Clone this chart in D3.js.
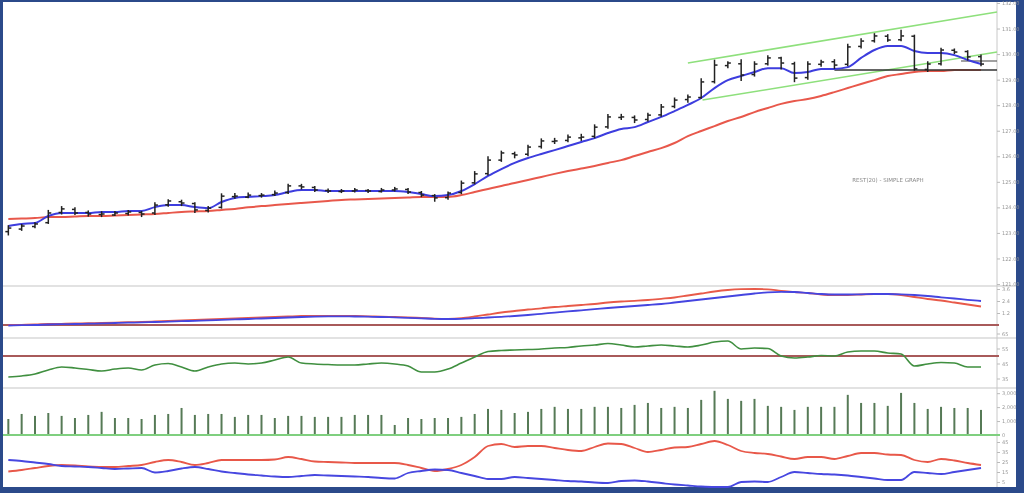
<!DOCTYPE html>
<html>
<head>
<meta charset="utf-8">
<script src="https://cdn.jsdelivr.net/npm/d3@7"></script>
<style>
  body { margin: 0; background: #2b4a8a; }
  svg { display: block; }
  .tick text { font-family: "DejaVu Sans", sans-serif; font-size: 5px; fill: #999; }
  .tick line { stroke: #bbb; }
</style>
</head>
<body>
<svg width="1024" height="493"></svg>
<script>
// price bars (open / high / low / close)
var opens = [123.05,123.15,123.25,123.40,123.80,123.92,123.80,123.72,123.70,123.76,123.80,123.78,124.10,124.22,124.15,123.88,124.00,124.42,124.40,124.46,
  124.50,124.58,124.84,124.78,124.66,124.62,124.64,124.66,124.62,124.68,124.70,124.58,124.46,124.38,124.58,124.96,125.32,125.85,126.10,126.08,
  126.38,126.58,126.62,126.72,126.78,127.15,127.52,127.52,127.44,127.62,127.95,128.22,128.30,128.92,129.55,129.62,129.20,129.62,129.85,129.62,
  129.08,129.60,129.70,129.60,130.30,130.52,130.70,130.56,130.70,129.40,129.62,130.15,130.10,129.90];
var highs = [123.30,123.35,123.42,123.90,124.05,124.00,123.88,123.85,123.86,123.90,123.86,124.20,124.32,124.30,124.20,124.05,124.55,124.56,124.58,124.56,
  124.66,124.92,124.92,124.84,124.74,124.72,124.76,124.72,124.76,124.80,124.76,124.64,124.52,124.62,125.05,125.42,126.00,126.22,126.18,126.45,
  126.70,126.72,126.85,126.88,127.25,127.65,127.66,127.60,127.70,128.05,128.30,128.42,129.05,129.78,129.72,129.80,129.72,129.95,129.90,129.70,
  129.72,129.78,129.80,130.40,130.62,130.82,130.78,130.95,130.76,129.72,130.25,130.22,130.15,129.98];
var lows = [122.90,123.08,123.18,123.35,123.72,123.70,123.64,123.62,123.66,123.68,123.62,123.70,124.02,124.05,123.78,123.80,123.95,124.34,124.36,124.38,
  124.44,124.52,124.70,124.60,124.56,124.56,124.58,124.56,124.58,124.62,124.52,124.40,124.22,124.30,124.52,124.90,125.25,125.78,125.92,126.00,
  126.30,126.48,126.55,126.60,126.70,127.08,127.42,127.30,127.36,127.55,127.88,128.10,128.25,128.85,129.45,128.95,129.12,129.55,129.40,128.90,
  129.00,129.50,129.42,129.52,130.22,130.45,130.48,130.50,129.35,129.30,129.55,130.00,129.75,129.52];
var closes = [123.19,123.27,123.35,123.78,123.94,123.78,123.74,123.74,123.78,123.82,123.74,124.09,124.25,124.17,123.90,123.97,124.44,124.44,124.48,124.48,
  124.56,124.84,124.80,124.68,124.64,124.64,124.68,124.64,124.68,124.72,124.60,124.48,124.37,124.56,124.95,125.31,125.85,126.13,126.05,126.36,
  126.60,126.60,126.75,126.75,127.14,127.54,127.54,127.42,127.61,127.93,128.20,128.32,128.91,129.57,129.65,129.18,129.61,129.85,129.65,129.06,
  129.61,129.69,129.57,130.28,130.51,130.71,130.55,130.71,129.42,129.61,130.16,130.08,129.89,129.61];

// moving averages
var maFast = [123.27,123.35,123.39,123.66,123.78,123.78,123.78,123.82,123.82,123.86,123.86,124.01,124.09,124.09,124.01,123.97,124.21,124.37,124.41,124.44,
  124.48,124.60,124.68,124.68,124.64,124.64,124.64,124.64,124.64,124.64,124.60,124.52,124.44,124.48,124.64,124.91,125.23,125.50,125.74,125.93,
  126.09,126.24,126.40,126.56,126.71,126.91,127.07,127.14,127.34,127.54,127.77,128.01,128.28,128.67,128.98,129.14,129.30,129.45,129.45,129.26,
  129.30,129.42,129.42,129.49,129.85,130.16,130.32,130.32,130.12,130.04,130.04,129.96,129.77,129.61];
var maSlow = [123.54,123.56,123.58,123.62,123.62,123.64,123.66,123.66,123.68,123.70,123.72,123.74,123.78,123.82,123.84,123.86,123.90,123.94,124.00,124.05,
  124.09,124.13,124.17,124.21,124.25,124.29,124.31,124.33,124.35,124.37,124.39,124.41,124.41,124.41,124.48,124.60,124.72,124.84,124.95,125.07,
  125.19,125.31,125.42,125.52,125.62,125.74,125.85,126.01,126.17,126.32,126.52,126.79,126.99,127.18,127.38,127.54,127.73,127.89,128.05,128.16,
  128.24,128.36,128.51,128.67,128.83,128.98,129.14,129.22,129.30,129.34,129.34,129.38,129.38,129.38];

// trend channel and support levels [bar, price]
var channelUpper = [[51, 129.65], [74.2, 131.65]];
var channelLower = [[52.1, 128.20], [74.2, 130.08]];
var supportMain = [[62, 129.38], [74.2, 129.38]];
var supportShort = [[71.5, 129.73], [74.2, 129.73]];

// MACD panel
var macdRed = [0,0.02,0.05,0.10,0.12,0.15,0.18,0.20,0.24,0.28,0.31,0.35,0.40,0.45,0.50,0.55,0.60,0.65,0.70,0.75,
  0.80,0.85,0.90,0.92,0.92,0.90,0.90,0.87,0.84,0.80,0.76,0.70,0.64,0.62,0.68,0.85,1.05,1.25,1.40,1.55,
  1.67,1.80,1.90,2.00,2.10,2.25,2.35,2.42,2.50,2.62,2.75,2.95,3.15,3.35,3.50,3.58,3.60,3.57,3.40,3.30,
  3.20,3.05,3.00,3.00,3.05,3.10,3.10,3.00,2.80,2.60,2.45,2.25,2.05,1.85];
var macdBlue = [-0.05,-0.02,0,0.05,0.08,0.10,0.13,0.16,0.20,0.23,0.26,0.30,0.34,0.38,0.42,0.46,0.51,0.56,0.60,0.65,
  0.70,0.75,0.80,0.84,0.86,0.86,0.85,0.83,0.80,0.76,0.72,0.67,0.62,0.60,0.62,0.68,0.75,0.82,0.90,1.00,
  1.12,1.24,1.36,1.47,1.58,1.70,1.80,1.90,2.00,2.10,2.25,2.40,2.55,2.70,2.85,3.00,3.15,3.27,3.32,3.30,
  3.20,3.10,3.05,3.05,3.07,3.10,3.10,3.07,3.00,2.90,2.77,2.65,2.52,2.40];
var macdTicks = [1.2, 2.4, 3.6];

// RSI panel
var rsi = [36,36.7,38,40.7,42.7,42,41,40,41.3,42,40.7,44,45,42.7,40,42.7,44.7,45.3,44.7,45.3,
  47.3,49.3,45.3,44.7,44.3,44,44,44.7,45.3,44.7,43.3,39.3,39.3,41.3,45.3,49.3,53,53.7,54,54.3,
  54.7,55.3,55.7,56.7,57.3,58.3,57.3,56,56.7,57.3,56.7,56,57.3,59.3,60,54.7,55.3,55,50,48.7,
  49.3,50.3,50,52.7,53.3,53.3,52,51.3,43.3,44.7,45.7,45.3,42.7,42.7];
var rsiTicks = [35, 45, 55, 65];

// volume
var volume = [1150,1510,1370,1580,1370,1220,1440,1660,1220,1220,1150,1440,1510,1940,1440,
  1510,1510,1300,1440,1440,1220,1370,1370,1300,1300,1300,1440,1440,1440,720,1220,1150,1220,1220,1300,1510,1870,1800,
  1580,1660,1870,2020,1870,1870,2020,2020,1940,2160,2300,1940,2020,1940,2520,3170,2590,2450,2590,2090,2020,1800,
  2020,2020,2020,2880,2300,2300,2090,3020,2300,1870,2020,1940,1940,1800];
var volTicks = [0, 1000, 2000, 3000];

// bottom oscillator
var oscRed = [15.5,17,19,21,22,21.5,20.5,20,20,21,22,25,27,25,22,24,27,27,27,27,
  27.5,30,28,25.5,25,24.5,24,24,24,24,22,19,16,18,22,30,41,43,40,41,
  41,39,37,36,40,43.5,43,39,35,37,39.5,40,43,46,42,36,34,33,30.5,28,
  30,30,28,31,34,34,32.5,32,27,25,28,26.5,24,22];
var oscBlue = [27,26,24.5,23,21,20.5,20,19,18,18.5,19,14.5,16,18.5,20,18,15.5,14,12.5,11.5,
  10.5,10,11,12,11.5,11,10.5,10,9,8.5,14,16,17.5,17,14,11,8,8,10,9,
  8,7,6,5.5,4.5,4,6,6.5,5.5,4,2.5,1.5,0.5,0,0,5,5.5,5,10,15,
  14,13,12.5,11.5,10,8.5,7,7,15,14,13,15,17,19];
var oscTicks = [5, 15, 25, 35, 45];

var svg = d3.select("svg");

svg.append("rect").attr("width", 1024).attr("height", 493).attr("fill", "#2b4a8a");
svg.append("rect").attr("x", 3).attr("y", 2).attr("width", 1013).attr("height", 485).attr("fill", "#fff");

var x = d3.scaleLinear().domain([-0.4, 74.2]).range([3, 997]);

var yPrice = d3.scaleLinear().domain([121, 132]).range([284, 3]);
var yMacd = d3.scaleLinear().domain([-1.2, 3.8]).range([337, 287]);
var yRsi = d3.scaleLinear().domain([30, 62]).range([386, 338]);
var yVol = d3.scaleLinear().domain([0, 3300]).range([435, 389]);
var yOsc = d3.scaleLinear().domain([0, 50]).range([487, 437]);

var g = svg.append("g").attr("filter", "url(#soft)");
svg.append("defs").append("filter").attr("id", "soft")
  .append("feGaussianBlur").attr("stdDeviation", 0.45);

// panel separators
[286, 338, 388].forEach(function(yy) {
  g.append("line").attr("x1", 3).attr("x2", 1016).attr("y1", yy).attr("y2", yy)
    .attr("stroke", "#e2e2e2").attr("stroke-width", 2);
});

// right axis line
g.append("line").attr("x1", 997).attr("x2", 997).attr("y1", 2).attr("y2", 487)
  .attr("stroke", "#c8c8c8").attr("stroke-width", 1);

function rightAxis(scale, ticks, fmt) {
  var a = g.append("g").attr("transform", "translate(997,0)")
    .call(d3.axisRight(scale).tickValues(ticks).tickSize(3).tickPadding(2).tickFormat(fmt));
  a.select(".domain").remove();
}
rightAxis(yPrice, d3.range(121, 132.5, 1), d3.format(".2f"));
rightAxis(yMacd, macdTicks, d3.format(".1f"));
rightAxis(yRsi, rsiTicks, d3.format("d"));
rightAxis(yVol, volTicks, d3.format(","));
rightAxis(yOsc, oscTicks, d3.format("d"));

function pts(arr) { return arr.map(function(v, i) { return [i, v]; }); }

function drawLine(data, yScale, color, width) {
  g.append("path")
    .datum(data)
    .attr("fill", "none")
    .attr("stroke", color)
    .attr("stroke-width", width)
    .attr("stroke-linejoin", "round")
    .attr("d", d3.line()
      .x(function(d) { return x(d[0]); })
      .y(function(d) { return yScale(d[1]); })
      .curve(d3.curveMonotoneX));
}

// price panel
drawLine(channelUpper, yPrice, "#8ee07c", 1.6);
drawLine(channelLower, yPrice, "#8ee07c", 1.6);
drawLine(pts(maSlow), yPrice, "#e8584c", 2);
drawLine(supportMain, yPrice, "#333", 1.4);
drawLine(supportShort, yPrice, "#444", 1.2);
drawLine(pts(maFast), yPrice, "#3c3cde", 2);

var bars = g.append("g").selectAll("g")
  .data(closes)
  .enter().append("g");

bars.append("line")
  .attr("x1", function(d, i) { return x(i); })
  .attr("x2", function(d, i) { return x(i); })
  .attr("y1", function(d, i) { return yPrice(highs[i]); })
  .attr("y2", function(d, i) { return yPrice(lows[i]); })
  .attr("stroke", "#222").attr("stroke-width", 1.5);
bars.append("line")
  .attr("x1", function(d, i) { return x(i) - 3; })
  .attr("x2", function(d, i) { return x(i); })
  .attr("y1", function(d, i) { return yPrice(opens[i]); })
  .attr("y2", function(d, i) { return yPrice(opens[i]); })
  .attr("stroke", "#222").attr("stroke-width", 1.5);
bars.append("line")
  .attr("x1", function(d, i) { return x(i); })
  .attr("x2", function(d, i) { return x(i) + 3; })
  .attr("y1", function(d) { return yPrice(d); })
  .attr("y2", function(d) { return yPrice(d); })
  .attr("stroke", "#222").attr("stroke-width", 1.5);

g.append("text")
  .attr("x", 888).attr("y", 182)
  .attr("text-anchor", "middle")
  .attr("font-family", "DejaVu Sans, sans-serif")
  .attr("font-size", 5.5)
  .attr("fill", "#888")
  .text("REST(20) - SIMPLE GRAPH");

// MACD panel
g.append("line").attr("x1", 3).attr("x2", 999).attr("y1", yMacd(0)).attr("y2", yMacd(0))
  .attr("stroke", "#a85a5a").attr("stroke-width", 2);
drawLine(pts(macdRed), yMacd, "#e85a4a", 1.8);
drawLine(pts(macdBlue), yMacd, "#4444e0", 1.8);

// RSI panel
g.append("line").attr("x1", 3).attr("x2", 999).attr("y1", yRsi(50)).attr("y2", yRsi(50))
  .attr("stroke", "#a85a5a").attr("stroke-width", 2);
drawLine(pts(rsi), yRsi, "#3f8f3f", 1.6);

// volume panel
g.append("g").selectAll("line")
  .data(volume)
  .enter().append("line")
    .attr("x1", function(d, i) { return x(i); })
    .attr("x2", function(d, i) { return x(i); })
    .attr("y1", yVol(0))
    .attr("y2", function(d) { return yVol(d); })
    .attr("stroke", "#567a56")
    .attr("stroke-width", 2);
g.append("line").attr("x1", 3).attr("x2", 1000).attr("y1", yVol(0)).attr("y2", yVol(0))
  .attr("stroke", "#7fcf7f").attr("stroke-width", 2);

// bottom oscillator
drawLine(pts(oscRed), yOsc, "#e8584a", 1.8);
drawLine(pts(oscBlue), yOsc, "#4646e0", 1.8);
</script>
</body>
</html>
